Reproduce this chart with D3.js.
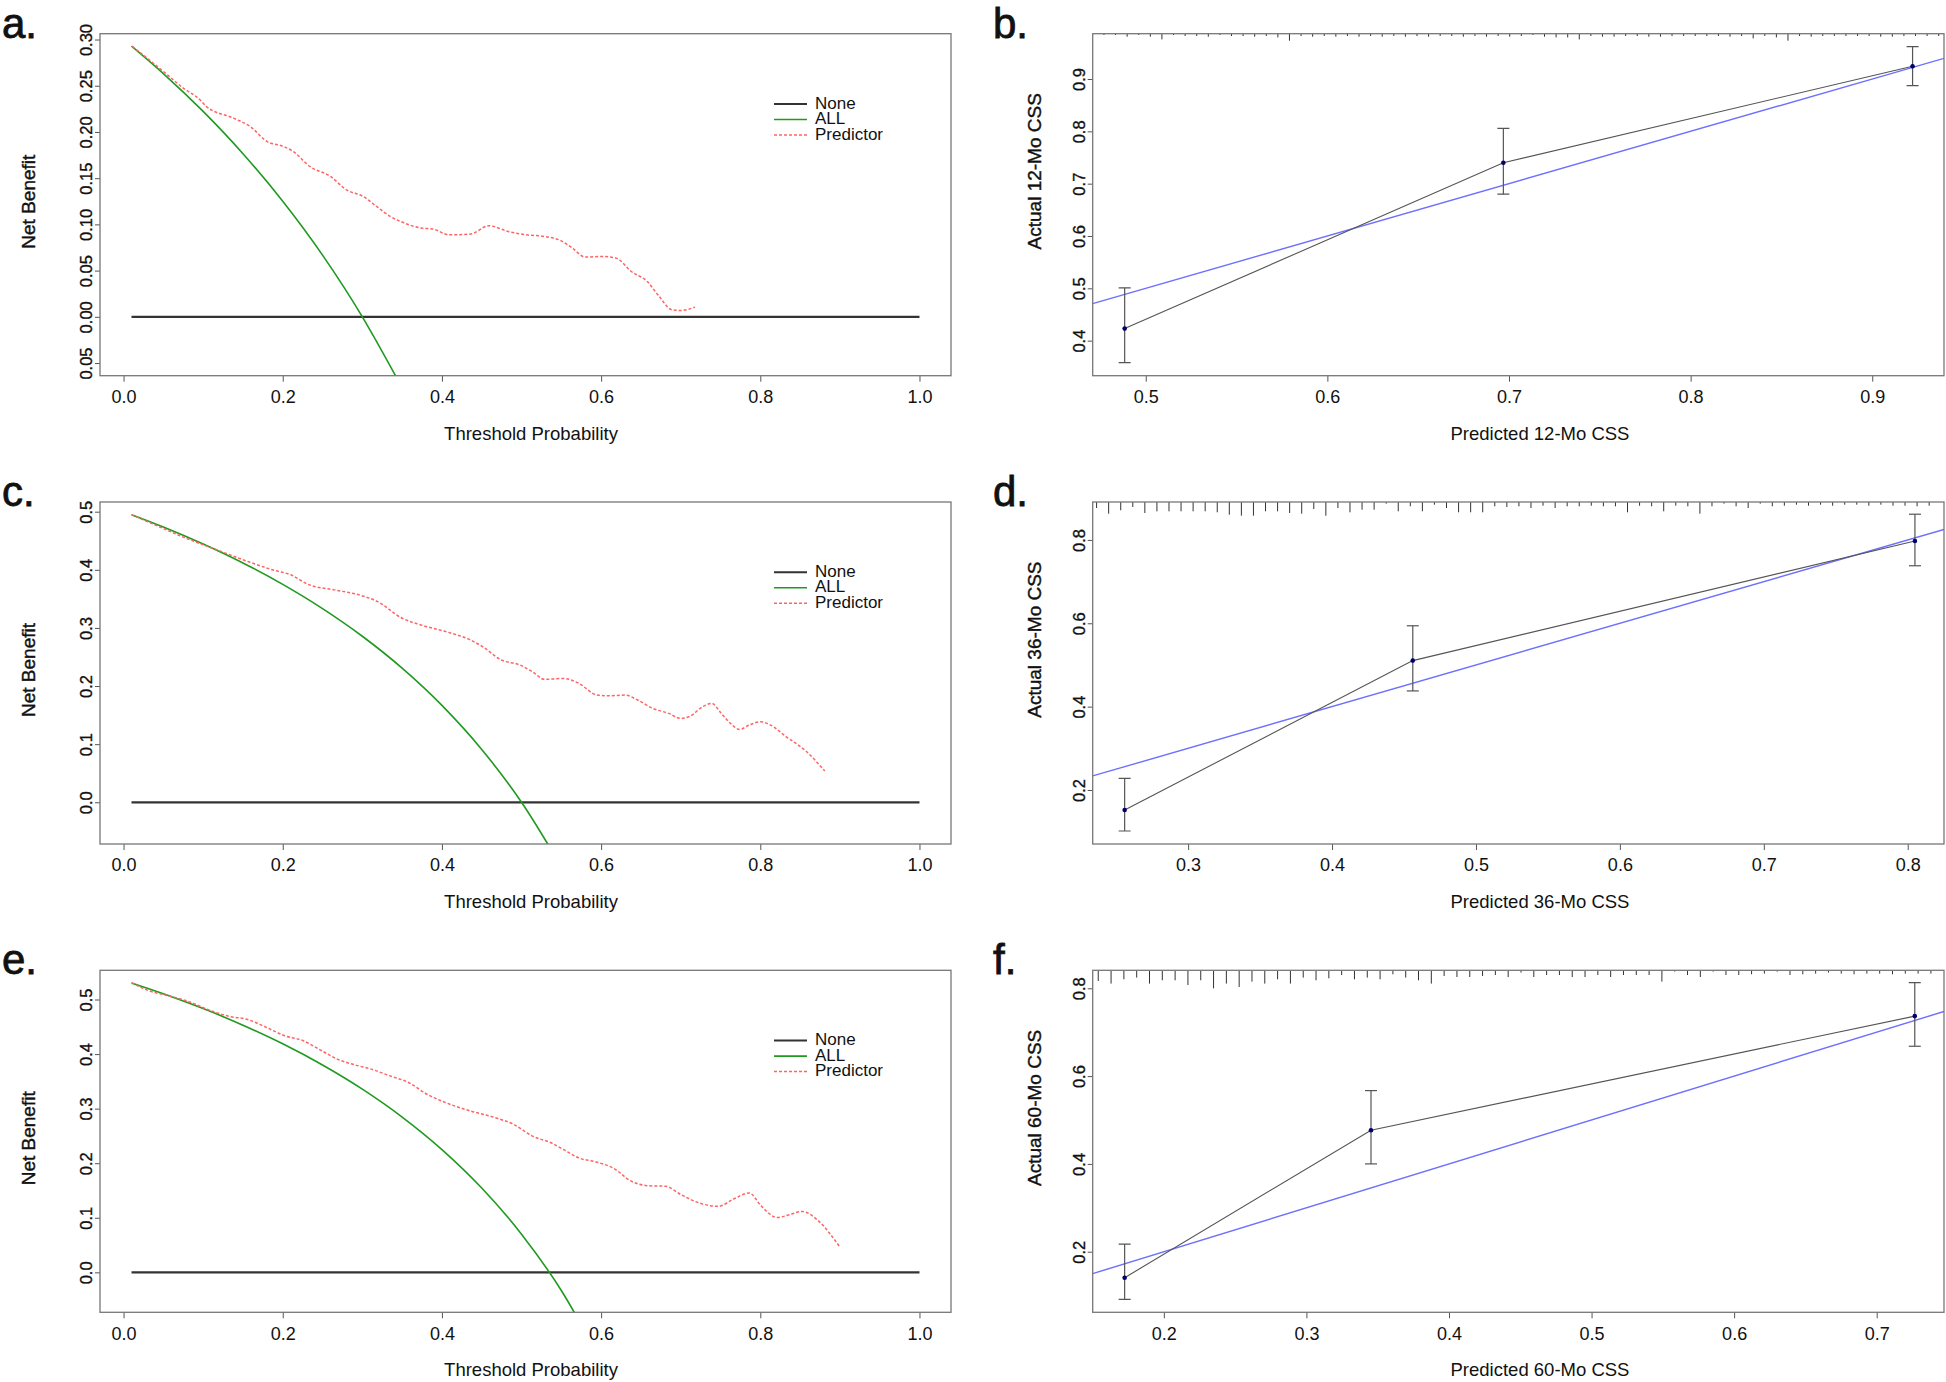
<!DOCTYPE html>
<html>
<head>
<meta charset="utf-8">
<script src="https://cdn.jsdelivr.net/npm/d3@7/dist/d3.min.js"></script>
<style>
  body { margin: 0; background: #fff; }
  svg { display: block; font-family: "Liberation Sans", Arial, sans-serif; }
</style>
</head>
<body>
<svg id="chart"></svg>
<script>
// ---- decision curve data (threshold probability -> net benefit) ----
const thresholds = [0.01, 0.05, 0.10, 0.15, 0.20, 0.25, 0.30, 0.35, 0.40, 0.45, 0.50, 0.55, 0.60];

const allA = [0.2929, 0.2632, 0.2222, 0.1765, 0.1250, 0.0667, 0.0000, -0.0769];
const allC = [0.4949, 0.4737, 0.4444, 0.4118, 0.3750, 0.3333, 0.2857, 0.2308, 0.1667, 0.0909, 0.0000, -0.1111];
const allE = [0.5303, 0.5105, 0.4833, 0.4529, 0.4188, 0.3800, 0.3357, 0.2846, 0.2250, 0.1545, 0.0700, -0.0333, -0.1625];

const predAx = [0.011, 0.05, 0.075, 0.096, 0.104, 0.138, 0.159, 0.18, 0.201, 0.213, 0.234, 0.26, 0.28, 0.301, 0.318, 0.335, 0.348, 0.374, 0.389, 0.409, 0.436, 0.459, 0.483, 0.506, 0.529, 0.549, 0.564, 0.58, 0.603, 0.619, 0.638, 0.658, 0.673, 0.689, 0.70, 0.718];
const predAy = [0.2926, 0.2655, 0.2475, 0.2348, 0.2276, 0.215, 0.206, 0.1898, 0.1843, 0.179, 0.1627, 0.1519, 0.1374, 0.1302, 0.1194, 0.1086, 0.1032, 0.096, 0.0949, 0.0887, 0.0895, 0.0985, 0.0924, 0.0887, 0.0869, 0.0826, 0.0743, 0.0646, 0.0653, 0.0635, 0.049, 0.0382, 0.022, 0.0076, 0.0069, 0.0105];

const predCx = [0.0101, 0.039, 0.078, 0.117, 0.156, 0.187, 0.21, 0.2335, 0.2646, 0.2957, 0.319, 0.35, 0.3735, 0.4047, 0.4358, 0.451, 0.4747, 0.498, 0.5136, 0.529, 0.5525, 0.572, 0.595, 0.611, 0.63, 0.646, 0.665, 0.685, 0.70, 0.712, 0.7276, 0.739, 0.751, 0.7626, 0.774, 0.786, 0.80, 0.813, 0.8327, 0.856, 0.881];
const predCy = [0.4948, 0.4776, 0.4546, 0.4345, 0.4144, 0.40, 0.3914, 0.3741, 0.3655, 0.3569, 0.3454, 0.3167, 0.3052, 0.2937, 0.2793, 0.2678, 0.2448, 0.2362, 0.2247, 0.2115, 0.2132, 0.2046, 0.1845, 0.1833, 0.1845, 0.1759, 0.1615, 0.1529, 0.1443, 0.1483, 0.1644, 0.1701, 0.1529, 0.1356, 0.1253, 0.1328, 0.1385, 0.1328, 0.1126, 0.0897, 0.054];

const predEx = [0.0101, 0.031, 0.0545, 0.078, 0.109, 0.132, 0.156, 0.179, 0.2023, 0.2257, 0.249, 0.2685, 0.2918, 0.311, 0.3346, 0.358, 0.3813, 0.4047, 0.4358, 0.467, 0.49, 0.5136, 0.537, 0.5525, 0.572, 0.595, 0.6148, 0.638, 0.6576, 0.681, 0.7004, 0.7237, 0.747, 0.7665, 0.786, 0.8016, 0.821, 0.8366, 0.852, 0.8716, 0.887, 0.9004];
const predEy = [0.5307, 0.5166, 0.5074, 0.4982, 0.4798, 0.4693, 0.4632, 0.4491, 0.4337, 0.4245, 0.4061, 0.3908, 0.3798, 0.3724, 0.3601, 0.3479, 0.3264, 0.311, 0.2957, 0.2834, 0.2712, 0.2497, 0.2374, 0.2252, 0.2098, 0.2018, 0.1914, 0.1669, 0.1589, 0.1577, 0.1423, 0.127, 0.1209, 0.1344, 0.1454, 0.1209, 0.1006, 0.1055, 0.1117, 0.0963, 0.0718, 0.0454];

const dcaXTicks = [0, 0.2, 0.4, 0.6, 0.8, 1.0];
const dcaYTicksA = [-0.05, 0, 0.05, 0.10, 0.15, 0.20, 0.25, 0.30];
const dcaYTicksCE = [0, 0.1, 0.2, 0.3, 0.4, 0.5];
const legendLabels = ['None', 'ALL', 'Predictor'];

// ---- calibration data (predicted vs actual CSS) ----
const calBpred = [0.4884, 0.6969, 0.9222];
const calBobs = [0.423, 0.740, 0.9243];
const calBlo = [0.358, 0.680, 0.8872];
const calBhi = [0.501, 0.8057, 0.9618];

const calDpred = [0.2559, 0.4561, 0.805];
const calDobs = [0.152, 0.5104, 0.7976];
const calDlo = [0.1016, 0.4377, 0.738];
const calDhi = [0.228, 0.594, 0.8617];

const calFpred = [0.1725, 0.3453, 0.7267];
const calFobs = [0.1408, 0.4768, 0.7367];
const calFlo = [0.0916, 0.40, 0.668];
const calFhi = [0.2175, 0.567, 0.8128];

// spike histogram of predicted values along the top (bin start, bin width, frequency)
const rugB = [1.3, 1.3, 3, 1.3, 3, 5.7, 1.3, 2.3, 2.3, 3, 1.3, 2.3, 2.3, 3, 2.3, 3.7, 7, 2.3, 3, 2.3, 3, 2.3, 3, 2.3, 3, 2.3, 3, 2.3, 3, 2.3, 2.3, 3, 2.3, 3, 2.3,
  3, 2.3, 1.3, 3, 3.7, 3.7, 5.7, 2.3, 3, 3, 2.3, 2.3, 3, 3, 2.3, 2.3, 2.3, 2.3, 2.3, 3, 2.3, 4.7, 2.3, 3.7, 7, 2.3, 3, 2.3, 2.3, 2.3, 2.3, 2.3, 3, 3, 2.3, 2.3, 2.3, 2.3];
const rugD = [6, 11.7, 8.3, 5, 11, 9.3, 9.3, 9.3, 9.3, 9.3, 10.3, 12.7, 13.7, 13.7, 9.3, 9.3, 11, 11.7, 7, 13.7, 6, 10.3, 7.7, 7.7, 1.7, 9.3, 4.3, 9.3, 2.7, 6,
  10.3, 10.3, 10.3, 4.3, 5, 4.3, 6, 3.7, 6, 4.3, 4.3, 3.7, 4.3, 4.3, 10.3, 3.7, 4.3, 9.3, 3.7, 4.3, 11.7, 4.3, 1.7, 4.3, 6, 1.7, 4.3, 3.7, 2.7, 3.7,
  2.7, 3.7, 2.7, 2.7, 3.7, 2.7, 3.7, 3.7, 4.3, 3.7];
const rugF = [10.7, 13.3, 9, 7.3, 13.3, 10, 10, 14.7, 10, 18, 13.3, 16.7, 11.3, 13.3, 9, 13.3, 7.3, 10, 8, 4.7, 9, 7.3, 9, 4, 7.3, 10, 13.3, 5.7, 6.7, 6.7,
  5.7, 4.7, 6.7, 2.3, 6.7, 4.7, 4.7, 6.7, 6.7, 4.7, 6.7, 4.7, 4.7, 4.7, 11.3, 1.3, 4.7, 6.7, 1.3, 4.7, 4.7, 4, 3.3, 1.3, 4.7, 4, 3.3, 2.3, 3.3, 4,
  3.3, 3.3, 4, 3.3, 3.3, 3.3];

const calXTicksB = [0.5, 0.6, 0.7, 0.8, 0.9];
const calYTicksB = [0.4, 0.5, 0.6, 0.7, 0.8, 0.9];
const calXTicksD = [0.3, 0.4, 0.5, 0.6, 0.7, 0.8];
const calXTicksF = [0.2, 0.3, 0.4, 0.5, 0.6, 0.7];
const calYTicksDF = [0.2, 0.4, 0.6, 0.8];

// ---- layout ----
const W = 1946, H = 1382;
const rowTop = [33.7, 502, 970.3];
const boxH = 342;
const dcaL = 100, dcaR = 951;
const calL = 1092.7, calR = 1944;

const svg = d3.select('#chart').attr('width', W).attr('height', H);

function styleYAxis(g, fmt) {
  g.select('.domain').remove();
  g.selectAll('.tick line').attr('stroke', '#555');
  g.selectAll('.tick text')
    .attr('x', null).attr('dy', null)
    .attr('text-anchor', 'middle')
    .attr('transform', 'translate(-8,0) rotate(-90)')
    .attr('font-size', 16.5).attr('fill', '#111')
    .attr('stroke', '#111').attr('stroke-width', 0.35)
    .text(fmt);
}

function styleXAxis(g) {
  g.select('.domain').remove();
  g.selectAll('.tick line').attr('stroke', '#555');
  g.selectAll('.tick text').attr('font-size', 18).attr('fill', '#111');
}

function panelLetter(txt, x, top) {
  svg.append('text').attr('x', x).attr('y', top + 4)
    .attr('font-size', 42).attr('fill', '#111')
    .attr('stroke', '#111').attr('stroke-width', 0.8).text(txt);
}

function drawDCA(id, top, all, px, py, ylim, yTicks, yFmt) {
  const ext = (ylim[1] - ylim[0]) * 0.04;
  const x = d3.scaleLinear().domain([-0.0296, 1.0396]).range([dcaL, dcaR]);
  const y = d3.scaleLinear().domain([ylim[0] - ext, ylim[1] + ext]).range([top + boxH, top]);
  const g = svg.append('g');

  svg.append('clipPath').attr('id', 'clip' + id)
    .append('rect').attr('x', dcaL).attr('y', top).attr('width', dcaR - dcaL).attr('height', boxH);
  const plot = g.append('g').attr('clip-path', `url(#clip${id})`);

  // None
  plot.append('path')
    .datum([0.01, 1.0])
    .attr('d', d3.line().x(d => x(d)).y(() => y(0)))
    .attr('stroke', '#333').attr('stroke-width', 2.2).attr('fill', 'none');

  // ALL
  const allPts = all.map((v, i) => [thresholds[i], v]);
  plot.append('path')
    .datum(allPts)
    .attr('d', d3.line().x(d => x(d[0])).y(d => y(d[1])).curve(d3.curveMonotoneX))
    .attr('stroke', '#1f9a1f').attr('stroke-width', 1.6).attr('fill', 'none');

  // Predictor
  const predPts = px.map((v, i) => [v, py[i]]);
  plot.append('path')
    .datum(predPts)
    .attr('d', d3.line().x(d => x(d[0])).y(d => y(d[1])).curve(d3.curveMonotoneX))
    .attr('stroke', '#ff6464').attr('stroke-width', 1.5)
    .attr('stroke-dasharray', '3,2').attr('fill', 'none');

  // axes
  g.append('g').attr('transform', `translate(0,${top + boxH})`)
    .call(d3.axisBottom(x).tickValues(dcaXTicks).tickSize(6).tickPadding(8.5).tickFormat(d3.format('.1f')))
    .call(styleXAxis);
  g.append('g').attr('transform', `translate(${dcaL},0)`)
    .call(d3.axisLeft(y).tickValues(yTicks).tickSize(5))
    .call(ax => styleYAxis(ax, yFmt));

  // box
  g.append('rect').attr('x', dcaL).attr('y', top).attr('width', dcaR - dcaL).attr('height', boxH)
    .attr('fill', 'none').attr('stroke', '#777').attr('stroke-width', 1.3);

  // titles
  g.append('text').attr('x', 531).attr('y', top + 399.5)
    .attr('text-anchor', 'middle').attr('dominant-baseline', 'central')
    .attr('font-size', 18.5).attr('fill', '#111').text('Threshold Probability');
  g.append('text').attr('transform', `translate(28.5,${top + 168}) rotate(-90)`)
    .attr('text-anchor', 'middle').attr('dominant-baseline', 'central')
    .attr('font-size', 19).attr('fill', '#111')
    .attr('stroke', '#111').attr('stroke-width', 0.4).text('Net Benefit');

  // legend
  const styles = [
    { c: '#333', w: 2, dash: null },
    { c: '#1f9a1f', w: 1.6, dash: null },
    { c: '#ff6464', w: 1.5, dash: '3,2' }
  ];
  const leg = g.append('g').attr('transform', `translate(774,${top + 70.3})`);
  legendLabels.forEach((lab, i) => {
    const yy = i * 15.5;
    leg.append('line').attr('x1', 0).attr('x2', 33).attr('y1', yy).attr('y2', yy)
      .attr('stroke', styles[i].c).attr('stroke-width', styles[i].w)
      .attr('stroke-dasharray', styles[i].dash);
    leg.append('text').attr('x', 41).attr('y', yy - 1).attr('dominant-baseline', 'central')
      .attr('font-size', 17).attr('fill', '#111').text(lab);
  });
}

function drawCal(id, top, pred, obs, lo, hi, xdom, ydom, xTicks, yTicks, rug, rugStart, rugStep, mo) {
  const x = d3.scaleLinear().domain(xdom).range([calL, calR]);
  const y = d3.scaleLinear().domain(ydom).range([top + boxH, top]);
  const rugLen = d3.scaleLinear().domain([0, 1]).range([0, 1]);
  const g = svg.append('g');

  svg.append('clipPath').attr('id', 'clip' + id)
    .append('rect').attr('x', calL).attr('y', top).attr('width', calR - calL).attr('height', boxH);
  const plot = g.append('g').attr('clip-path', `url(#clip${id})`);

  // spike histogram at top
  plot.selectAll('line.rug').data(rug).join('line').attr('class', 'rug')
    .attr('x1', (d, i) => x(rugStart + i * rugStep)).attr('x2', (d, i) => x(rugStart + i * rugStep))
    .attr('y1', top).attr('y2', d => top + rugLen(d))
    .attr('stroke', '#333').attr('stroke-width', 1);

  // ideal line
  plot.append('path')
    .datum(xdom)
    .attr('d', d3.line().x(d => x(d)).y(d => y(d)))
    .attr('stroke', '#6f6fff').attr('stroke-width', 1.4).attr('fill', 'none');

  // observed line
  const pts = pred.map((p, i) => [p, obs[i]]);
  plot.append('path')
    .datum(pts)
    .attr('d', d3.line().x(d => x(d[0])).y(d => y(d[1])))
    .attr('stroke', '#555').attr('stroke-width', 1.1).attr('fill', 'none');

  // error bars
  const eb = plot.selectAll('g.eb').data(pred).join('g').attr('class', 'eb');
  eb.append('line')
    .attr('x1', d => x(d)).attr('x2', d => x(d))
    .attr('y1', (d, i) => y(lo[i])).attr('y2', (d, i) => y(hi[i]));
  eb.append('line')
    .attr('x1', d => x(d) - 6).attr('x2', d => x(d) + 6)
    .attr('y1', (d, i) => y(lo[i])).attr('y2', (d, i) => y(lo[i]));
  eb.append('line')
    .attr('x1', d => x(d) - 6).attr('x2', d => x(d) + 6)
    .attr('y1', (d, i) => y(hi[i])).attr('y2', (d, i) => y(hi[i]));
  eb.selectAll('line').attr('stroke', '#555').attr('stroke-width', 1.2);

  // points
  plot.selectAll('circle.pt').data(pts).join('circle').attr('class', 'pt')
    .attr('cx', d => x(d[0])).attr('cy', d => y(d[1])).attr('r', 2.3)
    .attr('fill', '#00006e');

  // axes
  g.append('g').attr('transform', `translate(0,${top + boxH})`)
    .call(d3.axisBottom(x).tickValues(xTicks).tickSize(6).tickPadding(8.5).tickFormat(d3.format('.1f')))
    .call(styleXAxis);
  g.append('g').attr('transform', `translate(${calL},0)`)
    .call(d3.axisLeft(y).tickValues(yTicks).tickSize(5))
    .call(ax => styleYAxis(ax, d3.format('.1f')));

  g.append('rect').attr('x', calL).attr('y', top).attr('width', calR - calL).attr('height', boxH)
    .attr('fill', 'none').attr('stroke', '#777').attr('stroke-width', 1.3);

  g.append('text').attr('x', 1540).attr('y', top + 399.5)
    .attr('text-anchor', 'middle').attr('dominant-baseline', 'central')
    .attr('font-size', 18.5).attr('fill', '#111').text(`Predicted ${mo}-Mo CSS`);
  g.append('text').attr('transform', `translate(1034.5,${top + 137.6}) rotate(-90)`)
    .attr('text-anchor', 'middle').attr('dominant-baseline', 'central')
    .attr('font-size', 19).attr('fill', '#111')
    .attr('stroke', '#111').attr('stroke-width', 0.4).text(`Actual  ${mo}-Mo CSS`);
}

// tick labels as printed in panel a (the minus sign is not shown)
const fmtA = d => d3.format('.2f')(Math.abs(d));
const fmtCE = d3.format('.1f');

drawDCA('a', rowTop[0], allA, predAx, predAy, [-0.05, 0.2926], dcaYTicksA, fmtA);
drawDCA('c', rowTop[1], allC, predCx, predCy, [-0.05, 0.4949], dcaYTicksCE, fmtCE);
drawDCA('e', rowTop[2], allE, predEx, predEy, [-0.05, 0.5303], dcaYTicksCE, fmtCE);

drawCal('b', rowTop[0], calBpred, calBobs, calBlo, calBhi, [0.4708, 0.9395], [0.333, 0.9866],
  calXTicksB, calYTicksB, rugB, 0.477, 0.006383, 12);
drawCal('d', rowTop[1], calDpred, calDobs, calDlo, calDhi, [0.2337, 0.8252], [0.0704, 0.891],
  calXTicksD, calYTicksDF, rugD, 0.2364, 0.008384, 36);
drawCal('f', rowTop[2], calFpred, calFobs, calFlo, calFhi, [0.1501, 0.7472], [0.062, 0.841],
  calXTicksF, calYTicksDF, rugF, 0.154, 0.008985, 60);

panelLetter('a.', 2, rowTop[0]);
panelLetter('c.', 2, rowTop[1]);
panelLetter('e.', 2, rowTop[2]);
panelLetter('b.', 993, rowTop[0]);
panelLetter('d.', 993, rowTop[1]);
panelLetter('f.', 993, rowTop[2]);
</script>
</body>
</html>
